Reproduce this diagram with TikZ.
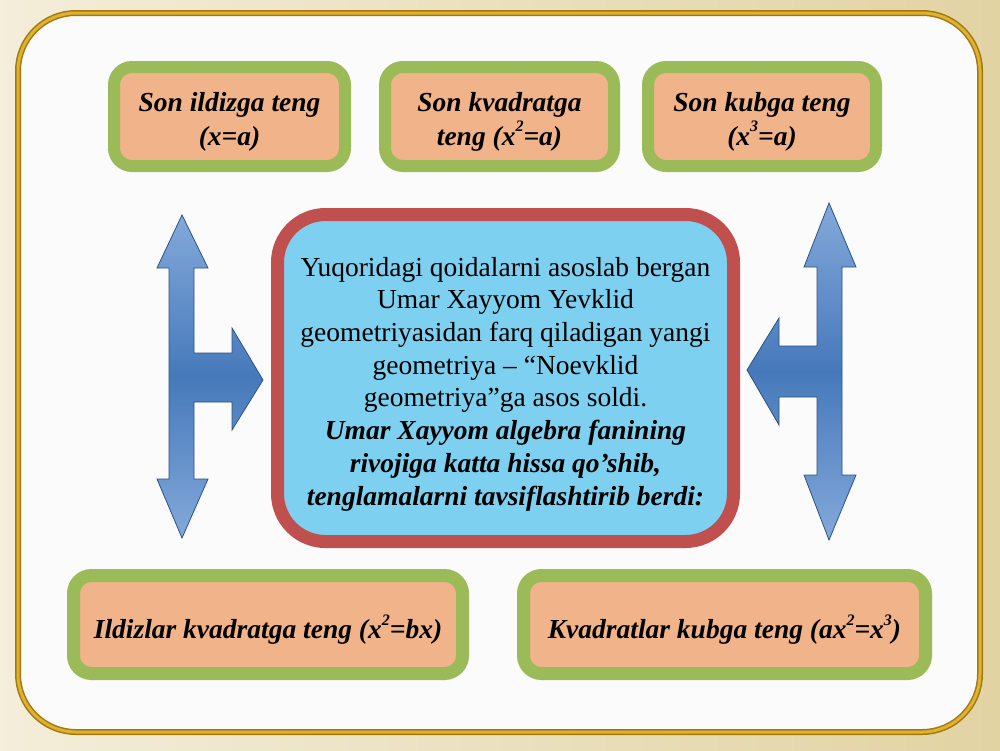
\documentclass[tikz,border=0pt]{standalone}
\usepackage{fontspec}
\setmainfont{Liberation Serif}
\newcommand{\supr}[1]{\raisebox{0.5em}{\fontsize{16}{16}\selectfont #1}}
\newcommand{\dn}[2]{\raisebox{-#1}[\height][\depth]{#2}}
\begin{document}
\begin{tikzpicture}[x=1pt,y=-1pt,
  topbox/.style={draw=boxgreen, line width=12pt, fill=boxorange, rounded corners=18pt,
    align=center, inner sep=0pt, font=\fontsize{27.5}{34}\selectfont\bfseries\itshape},
  botbox/.style={draw=boxgreen, line width=13pt, fill=boxorange, rounded corners=18pt,
    align=center, inner sep=0pt, minimum height=98pt, font=\fontsize{27.5}{34}\selectfont\bfseries\itshape},
  bigarrow/.style={draw=arrowedge, line width=0.8pt, top color=arrowlight, bottom color=arrowlight, middle color=arrowdark, line join=miter}
]
\definecolor{boxgreen}{HTML}{9BBB59}
\definecolor{boxorange}{HTML}{F0B38A}
\definecolor{redframe}{HTML}{C0504D}
\definecolor{bluefill}{HTML}{7DD0F0}
\definecolor{arrowlight}{HTML}{83A9DA}
\definecolor{arrowdark}{HTML}{4679BA}
\definecolor{arrowedge}{HTML}{2A5289}
\definecolor{parch}{HTML}{ECE2C1}
\definecolor{parchdark}{HTML}{E2D3A3}
\definecolor{golddark}{HTML}{A5780F}
\definecolor{goldlight}{HTML}{DDB232}
\useasboundingbox (0,0) rectangle (1000,750);
% background
\shade[left color=parch!60!white, right color=parchdark] (0,0) rectangle (1000,750);
% white panel with gold frame
\draw[golddark, line width=6pt, fill=white!97!gray, rounded corners=58pt] (18,13) rectangle (980,732);
\draw[goldlight, line width=3pt, rounded corners=58pt] (18,13) rectangle (980,732);

% top boxes
\node[topbox, minimum width=231pt, minimum height=99pt] (b1) at (229.5,116.5) {\dn{5pt}{\parbox{225pt}{\centering Son ildizga teng\\(x=a)}}};
\node[topbox, minimum width=229pt, minimum height=99pt] (b2) at (499.5,116.5) {\dn{5pt}{\parbox{225pt}{\centering Son kvadratga\\teng (x\supr{2}=a)}}};
\node[topbox, minimum width=228pt, minimum height=99pt] (b3) at (762,116.5) {\dn{5pt}{\parbox{225pt}{\centering Son kubga teng\\(x\supr{3}=a)}}};

% central box
\node[draw=redframe, line width=13pt, fill=bluefill, rounded corners=48pt,
  minimum width=456pt, minimum height=327pt, align=center, inner sep=0pt,
  font=\fontsize{27.5}{32.7}\selectfont] (c) at (505.5,378)
  {\dn{6pt}{\parbox{450pt}{\centering
   Yuqoridagi qoidalarni asoslab bergan\\
   Umar Xayyom Yevklid\\
   geometriyasidan farq qiladigan yangi\\
   geometriya – “Noevklid\\
   geometriya”ga asos soldi.\\
   {\bfseries\itshape Umar Xayyom algebra fanining}\\
   {\bfseries\itshape rivojiga katta hissa qo’shib,}\\
   {\bfseries\itshape tenglamalarni tavsiflashtirib berdi:}}}};

% bottom boxes
\node[botbox, minimum width=389pt] (d1) at (268,624.5) {\dn{5pt}{Ildizlar kvadratga teng (x\supr{2}=bx)}};
\node[botbox, minimum width=402pt] (d2) at (724.5,624.5) {\dn{5pt}{Kvadratlar kubga teng (ax\supr{2}=x\supr{3})}};

% left double arrow with branch
\draw[bigarrow] (182,215) -- (208,268) -- (194,268) -- (194,353) -- (232,353) -- (232,328)
  -- (263,380) -- (232,430) -- (232,402) -- (194,402) -- (194,479) -- (208,479)
  -- (182,538) -- (157,479) -- (169,479) -- (169,268) -- (157,268) -- cycle;
% right double arrow with branch
\draw[bigarrow] (829,203) -- (856,267) -- (842,267) -- (842,475) -- (856,475) -- (829,540)
  -- (804,475) -- (817,475) -- (817,397) -- (779,397) -- (779,425) -- (747,370)
  -- (779,318) -- (779,346) -- (817,346) -- (817,267) -- (804,267) -- cycle;
\end{tikzpicture}
\end{document}
